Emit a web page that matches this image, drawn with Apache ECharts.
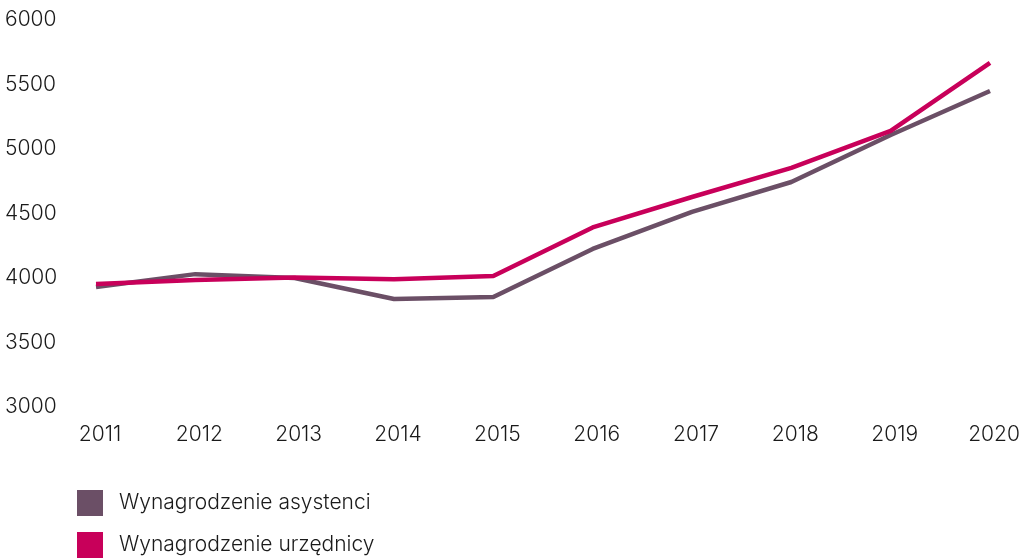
<!DOCTYPE html>
<html><head><meta charset="utf-8">
<script src="https://cdn.jsdelivr.net/npm/echarts@6/dist/echarts.min.js"></script>
<style>html,body{margin:0;padding:0;background:#fff}#c{width:1031px;height:559px}</style>
</head><body><div id="c"></div>
<script>
const years = ['2011','2012','2013','2014','2015','2016','2017','2018','2019','2020'];
const asystenci = [3930, 4030, 4000, 3837, 3853, 4225, 4512, 4744, 5108, 5450];
const urzednicy = [3953, 3985, 4003, 3990, 4015, 4392, 4628, 4853, 5140, 5667];
const seriesNames = ['Wynagrodzenie asystenci', 'Wynagrodzenie urzędnicy'];
const colors = ['#6b4f66', '#c8005a'];
const font = 'Inter';
const legendText = {fontFamily: font, fontSize: 21, fontWeight: 300, color: '#1a1a1a', padding: [0,0,0,11]};
const chart = echarts.init(document.getElementById('c'));
chart.setOption({
  animation: false,
  color: colors,
  grid: {left: 96, right: 41, top: 20, bottom: 152},
  legend: [
    {orient: 'vertical', left: 77, top: 490, padding: 0, itemWidth: 26, itemHeight: 26, icon: 'rect', textStyle: legendText, data: [seriesNames[0]]},
    {orient: 'vertical', left: 77, top: 532, padding: 0, itemWidth: 26, itemHeight: 26, icon: 'rect', textStyle: legendText, data: [seriesNames[1]]}
  ],
  xAxis: {
    type: 'category', data: years, boundaryGap: false,
    axisLine: {show: false}, axisTick: {show: false},
    axisLabel: {fontFamily: font, fontSize: 21, fontWeight: 300, color: '#1a1a1a', margin: 17, padding: [0,0,0,8]}
  },
  yAxis: {
    type: 'value', min: 3000, max: 6000, interval: 500,
    splitLine: {show: false}, axisLine: {show: false}, axisTick: {show: false},
    axisLabel: {fontFamily: font, fontSize: 21, fontWeight: 300, color: '#1a1a1a', align: 'left', margin: 91,
      formatter: v => String(v)}
  },
  series: [
    {name: seriesNames[0], type: 'line', data: asystenci, symbol: 'none', lineStyle: {width: 4.5, color: colors[0]}},
    {name: seriesNames[1], type: 'line', data: urzednicy, symbol: 'none', lineStyle: {width: 4.5, color: colors[1]}}
  ]
});
</script></body></html>
